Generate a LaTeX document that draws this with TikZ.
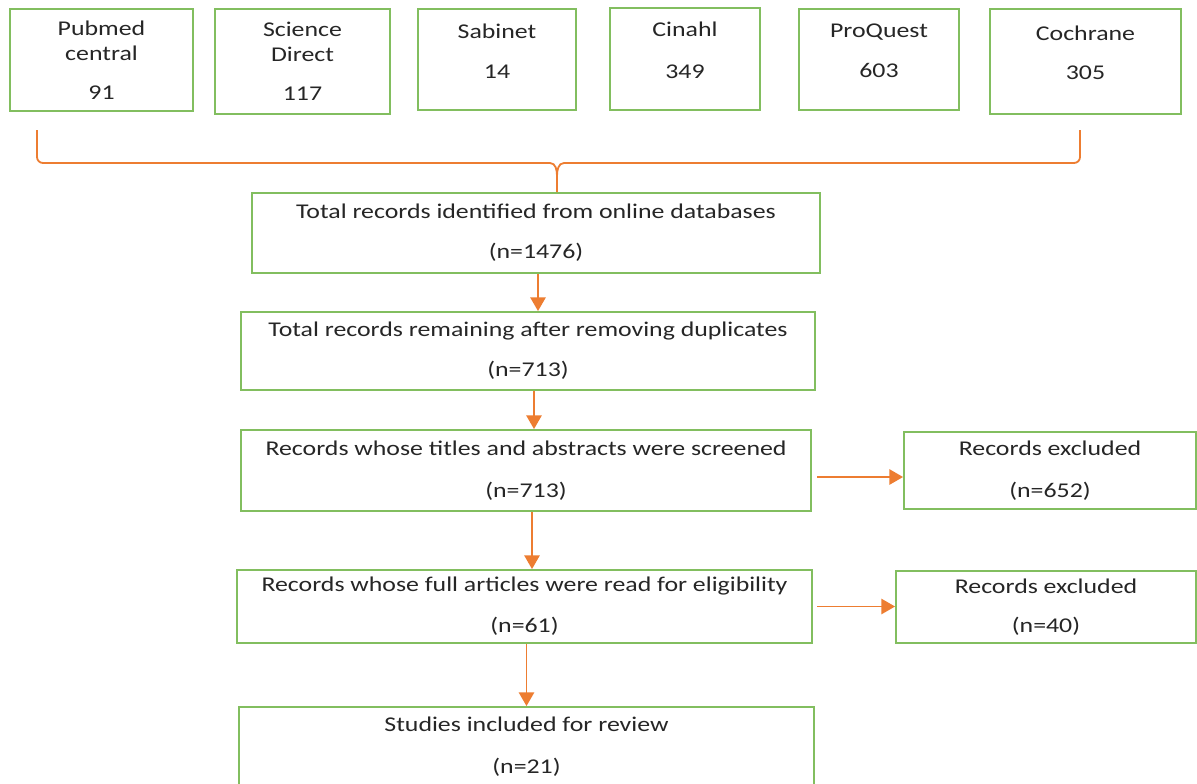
\documentclass[tikz,border=0pt]{standalone}
\usepackage{fontspec}
\setmainfont{Carlito}[FakeStretch=1.23]
\usepackage{tikz}
\usetikzlibrary{calc}
\usetikzlibrary{arrows}

\definecolor{boxgreen}{RGB}{130,190,95}
\definecolor{arrorange}{RGB}{237,125,49}
\definecolor{txtgray}{RGB}{38,38,38}

\tikzset{
  boxsize/.style 2 args={minimum width=#1*0.5pt, minimum height=#2*0.5pt},
  dbbox/.style={draw=boxgreen, line width=1pt, align=center, inner sep=0pt,
    text=txtgray, font=\fontsize{10.5}{12.5}\selectfont},
  flowbox/.style={dbbox},
  arr/.style={->, >=triangle 60, draw=arrorange, line width=0.85pt},
  brace/.style={draw=arrorange, line width=0.9pt}
}

\begin{document}
\begin{tikzpicture}[x=0.5pt, y=-0.5pt]
\useasboundingbox (0,0) rectangle (1197,783);
\fill[white] (0,0) rectangle (1197,783);

\node[dbbox, boxsize={183}{102}] (pub) at (101.5,60) {Pubmed\\central\\[7pt]91};
\node[dbbox, boxsize={175}{105}] (sci) at (302.5,61.5) {Science\\Direct\\[7pt]117};
\node[dbbox, boxsize={158}{101}] (sab) at (497,59.5) {Sabinet\\[7.5pt]14\\[-4pt]\mbox{}};
\node[dbbox, boxsize={150}{102}] (cin) at (685,59) {Cinahl\\[8.5pt]349\\[-4pt]\mbox{}};
\node[dbbox, boxsize={160}{101}] (pro) at (879,59.5) {ProQuest\\[7.5pt]603\\[-4pt]\mbox{}};
\node[dbbox, boxsize={191}{105}] (coc) at (1085.5,61.5) {Cochrane\\[7pt]305\\[-4pt]\mbox{}};

\node[flowbox, boxsize={568}{80}] (ident) at (536,233) {Total records identified from online databases\\[7.5pt](n=1476)};
\node[flowbox, boxsize={574}{78}] (dedup) at (528,351) {Total records remaining after removing duplicates\\[7.5pt](n=713)};
\node[flowbox, boxsize={570}{81}] (screen) at (526,470.5) {Records whose titles and abstracts were screened\\[8.5pt](n=713)};
\node[flowbox, boxsize={292}{77}] (excl1) at (1050,470.5) {Records excluded\\[8.5pt](n=652)};
\node[flowbox, boxsize={575}{73}] (full) at (524.5,606.5) {Records whose full articles were read for eligibility\\[8pt](n=61)};
\node[flowbox, boxsize={300}{72}] (excl2) at (1046,607) {Records excluded\\[7pt](n=40)};
\node[flowbox, boxsize={575}{80}] (incl) at (526.5,747) {Studies included for review\\[8.5pt](n=21)};

\coordinate (BL) at (37,130); \coordinate (BR) at (1080,130);
\coordinate (tip) at (557,176);
\draw[brace] (BL) -- (37,157) to[out=-90,in=180] (43,163) -- (550,163)
  to[out=0,in=90] (tip) -- (tip |- ident.north);
\draw[brace] (tip) to[out=90,in=180] (564,163) -- (1074,163)
  to[out=0,in=-90] (1080,157) -- (BR);

\draw[arr] ([xshift=1pt]ident.south) -- ([xshift=1pt]ident.south |- dedup.north);
\draw[arr] ([xshift=3pt]dedup.south) -- ([xshift=3pt]dedup.south |- screen.north);
\draw[arr] ([xshift=3pt]screen.south) -- ([xshift=3pt]screen.south |- full.north);
\draw[arr] ([xshift=1pt]full.south) -- ([xshift=1pt]full.south |- incl.north);
\draw[arr] ([shift={(5,6.5)}]screen.east) coordinate (e1) -- (e1 -| excl1.west);
\draw[arr] ([xshift=2pt]full.east) coordinate (e2) -- (e2 -| excl2.west);

\end{tikzpicture}
\end{document}
